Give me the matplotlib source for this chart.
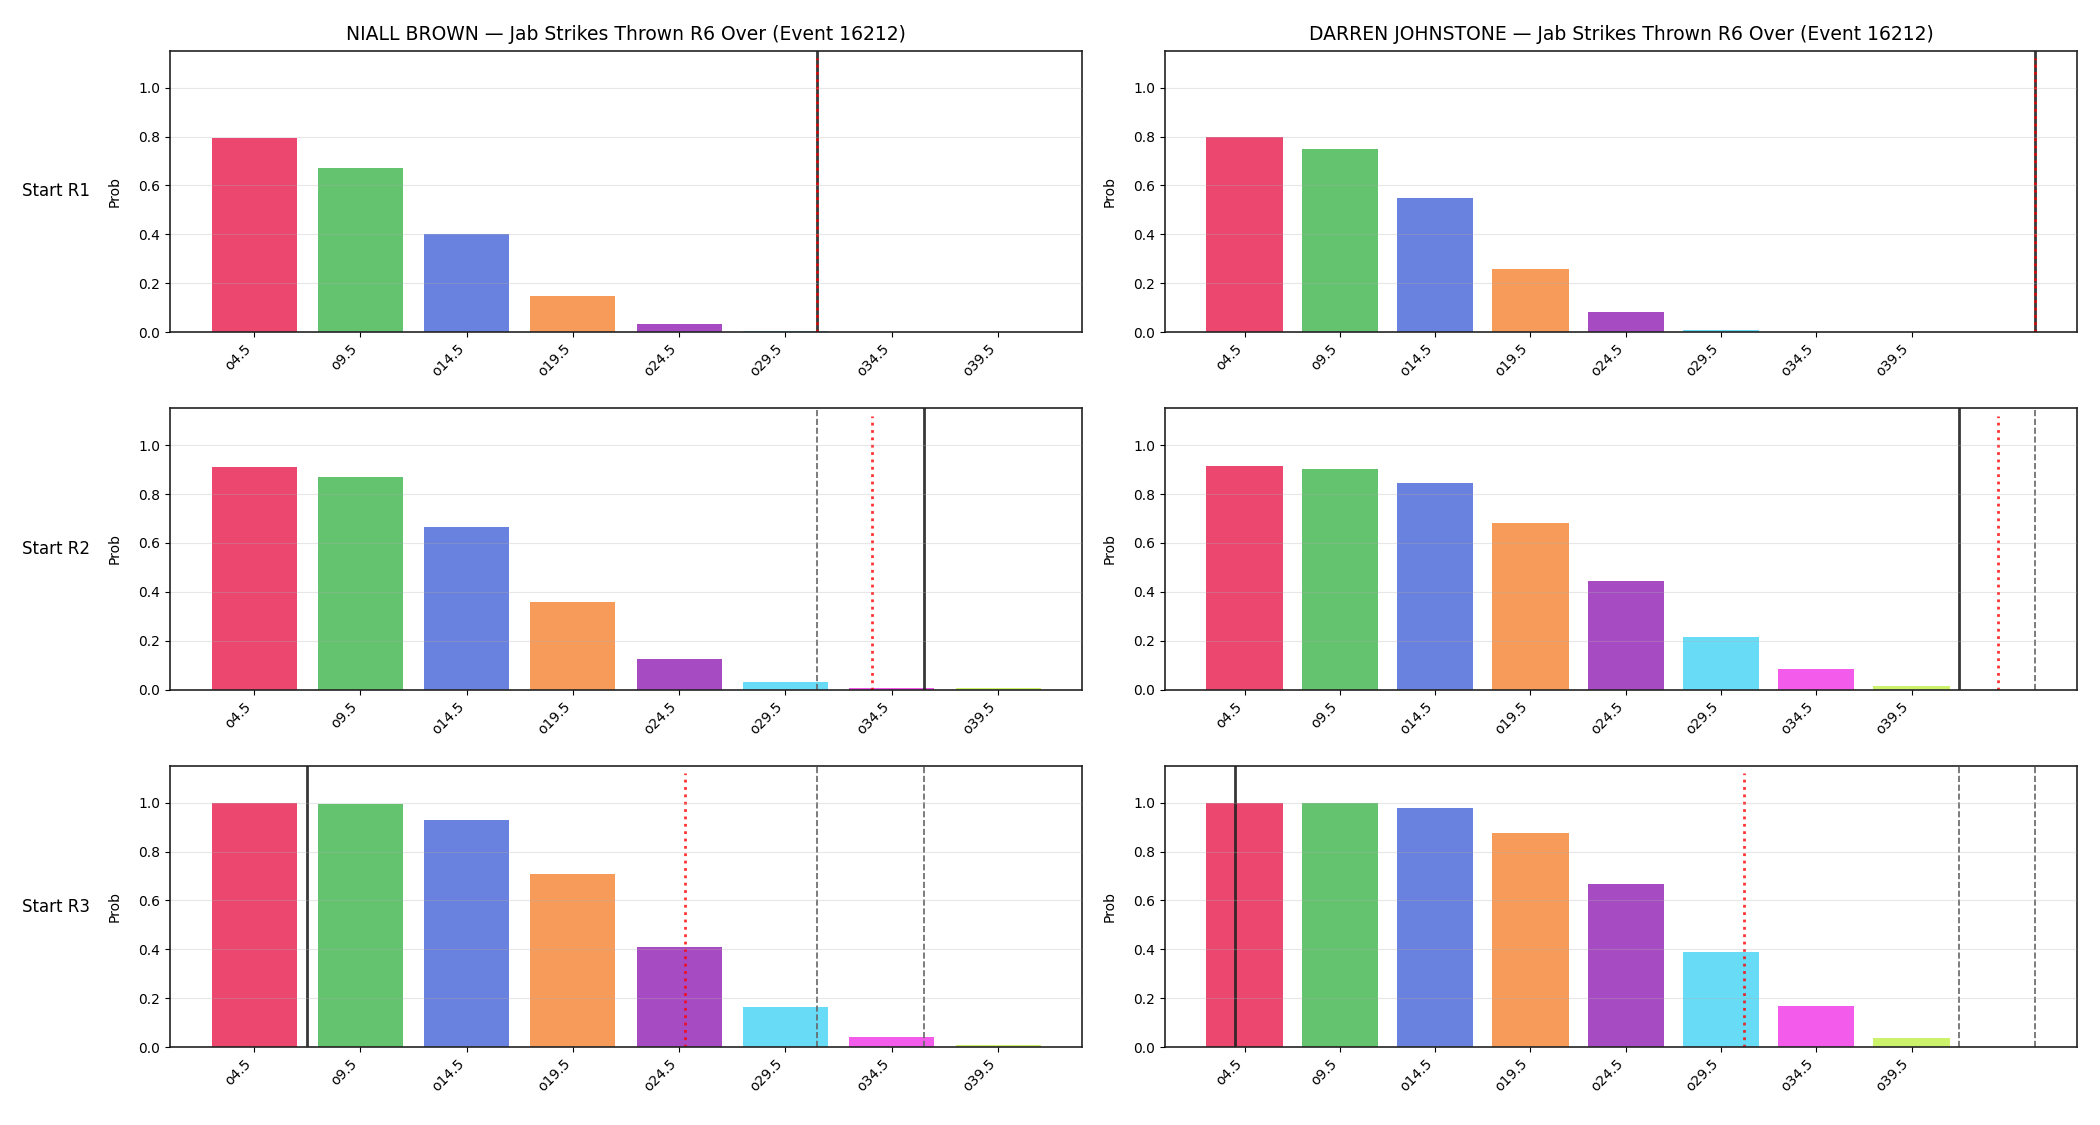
import numpy as np
import matplotlib
matplotlib.use("Agg")
import matplotlib.pyplot as plt

# Over lines (x axis categories)
lines = ["o4.5", "o9.5", "o14.5", "o19.5", "o24.5", "o29.5", "o34.5", "o39.5"]
fighters = ["NIALL BROWN", "DARREN JOHNSTONE"]
starts = ["Start R1", "Start R2", "Start R3"]

# P(over) per start round
brown_r1 = [0.792, 0.673, 0.401, 0.147, 0.032, 0.003, 0.001, 0.0003]
brown_r2 = [0.910, 0.869, 0.665, 0.358, 0.125, 0.031, 0.007, 0.005]
brown_r3 = [0.997, 0.993, 0.928, 0.710, 0.411, 0.165, 0.040, 0.007]
johnstone_r1 = [0.796, 0.747, 0.549, 0.258, 0.081, 0.010, 0.002, 0.0005]
johnstone_r2 = [0.914, 0.902, 0.845, 0.681, 0.444, 0.215, 0.082, 0.015]
johnstone_r3 = [0.997, 0.997, 0.978, 0.874, 0.667, 0.388, 0.167, 0.036]

# strike counts marked on each panel: current (solid), projection (dotted), earlier (dashed)
brown_current = [31, 36, 7]
brown_proj = [31, 33.55, 24.75]
brown_prev = [[], [31], [31, 36]]
johnstone_current = [46, 42, 4]
johnstone_proj = [46, 44.05, 30.7]
johnstone_prev = [[], [46], [42, 46]]

probs = {"NIALL BROWN": [brown_r1, brown_r2, brown_r3],
         "DARREN JOHNSTONE": [johnstone_r1, johnstone_r2, johnstone_r3]}
marks = {"NIALL BROWN": (brown_current, brown_proj, brown_prev),
         "DARREN JOHNSTONE": (johnstone_current, johnstone_proj, johnstone_prev)}

barColors = ['#e6194b', '#3cb44b', '#4363d8', '#f58231',
             '#911eb4', '#42d4f4', '#f032e6', '#bfef45']


def toIndex(count):
    # strike count -> position on the o4.5, o9.5 ... category axis
    return (count - 4.5) / 5.0


fig, axes = plt.subplots(3, 2, figsize=(21, 11.25), dpi=100)
plt.subplots_adjust(left=0.081, right=0.989, top=0.9547, bottom=0.0693,
                    wspace=0.091, hspace=0.272)

x = np.arange(len(lines))
for col, name in enumerate(fighters):
    current, proj, prev = marks[name]
    for row in range(3):
        ax = axes[row, col]
        ax.bar(x, probs[name][row], width=0.8, color=barColors, alpha=0.8)
        ax.axvline(toIndex(current[row]), color='#222222', lw=2, alpha=0.9)
        for p in prev[row]:
            ax.axvline(toIndex(p), color='#666666', lw=1.2, ls='--')
        ax.vlines(toIndex(proj[row]), 0, 1.12, color='red', lw=2, ls=':', alpha=0.8)
        ax.set_ylim(0, 1.15)
        ax.set_xticks(x)
        ax.set_xticklabels(lines, rotation=45, ha='right')
        ax.set_ylabel('Prob', labelpad=12)
        ax.grid(axis='y', alpha=0.3)
        ax.set_axisbelow(False)
        for s in ax.spines.values():
            s.set_linewidth(1.2)
            s.set_color('#222222')
        if row == 0:
            ax.set_title(name + " \u2014 Jab Strikes Thrown R6 Over (Event 16212)",
                         fontsize=13.5, pad=8)
        if col == 0:
            ax.text(-0.088, 0.5, starts[row], transform=ax.transAxes,
                    ha='right', va='center', fontsize=12)

plt.savefig("out.png", dpi=100)
